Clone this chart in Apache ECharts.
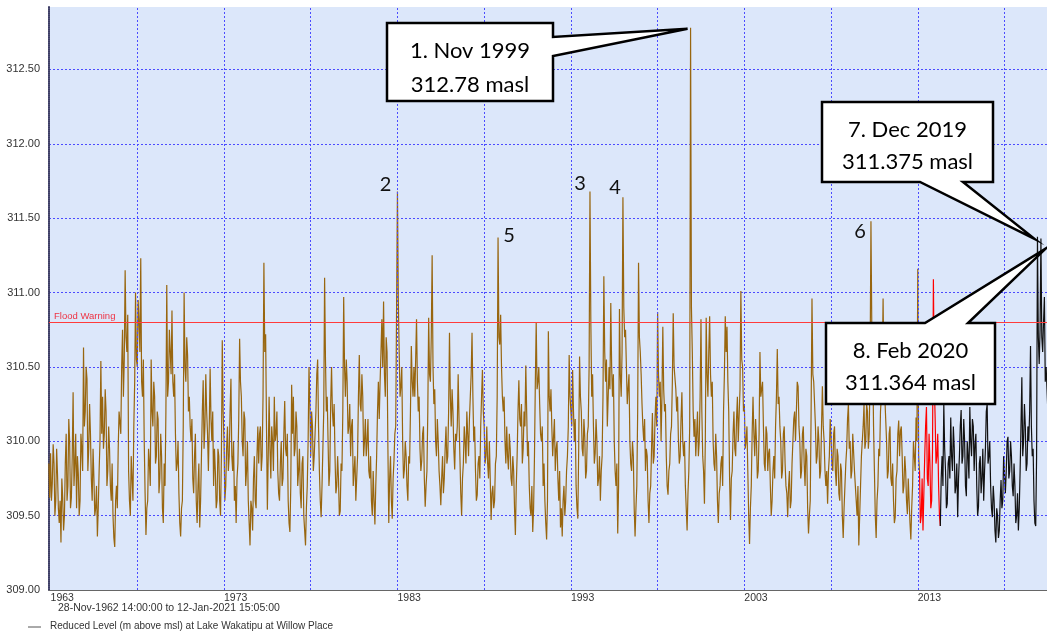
<!DOCTYPE html>
<html><head><meta charset="utf-8">
<script src="https://cdn.jsdelivr.net/npm/echarts@6/dist/echarts.min.js"></script>
<style>html,body{margin:0;padding:0;background:#fff}#c{width:1047px;height:631px}</style>
</head><body><div id="c"></div>
<script>
// Lake level (m above msl): one value every 0.1 year,
// plus an in-between reading (…Mid) half a step later.
const lv1962_1972 = [309.85,
 309.92,309.72,309.85,309.6,309.78,309.45,309.32,309.62,309.5,310.05,
 309.7,310.0,309.62,310.33,309.85,309.55,309.78,309.6,309.95,310.63,
 310.2,310.42,309.95,310.05,309.6,309.75,309.55,309.36,309.8,310.54,
 310.3,310.05,310.2,309.8,309.95,309.6,309.5,309.29,309.7,309.95,
 310.2,310.5,310.3,311.15,310.6,309.8,309.5,309.75,310.1,311.0,
 310.5,310.8,311.23,310.3,310.0,309.37,309.6,309.85,310.55,310.1,
 310.3,309.9,310.15,309.75,309.9,309.45,309.7,311.05,310.4,310.6,
 310.88,310.3,310.05,309.85,309.65,309.36,309.6,311.0,310.4,310.58,
 310.3,310.0,309.75,309.9,309.6,309.7,309.42,309.9,310.41,310.1,
 310.2,309.8,310.49,310.0,309.7,309.8,309.6,309.9,309.5,310.68];
const lv1962_1972Mid = [309.62,
 309.6,309.98,309.5,309.95,309.55,309.6,309.75,309.4,309.85,309.6,
 310.15,309.55,309.9,309.7,310.05,309.9,309.5,310.05,309.8,310.1,
 310.5,309.8,310.25,309.75,309.95,309.5,309.7,309.55,310.0,310.05,
 309.95,310.35,309.7,310.1,309.7,309.85,309.35,309.6,309.55,310.2,
 310.05,310.75,310.55,310.7,310.85,309.6,309.9,309.6,310.4,310.55,
 310.95,310.6,310.4,310.55,309.65,309.55,309.95,309.7,310.2,310.4,
 309.85,310.2,309.65,310.05,309.55,309.85,310.2,310.3,310.75,310.45,
 310.4,310.45,309.8,310.0,309.45,309.55,310.1,310.5,310.7,310.2,
 310.1,310.15,309.65,310.05,309.45,309.85,309.6,310.2,309.95,310.45,
 310.05,310.1,310.15,310.2,309.95,309.55,309.95,309.6,309.9,310.2];
const lv1973_1982 = [
 310.0,309.7,310.1,309.9,310.42,309.8,309.6,309.45,309.85,310.69,
 310.3,309.9,310.15,309.8,309.6,309.3,309.55,309.75,309.6,309.9,
 309.85,310.1,309.9,311.2,310.72,309.54,310.3,309.75,310.0,310.3,
 310.05,309.8,309.6,310.0,309.75,310.27,309.9,309.6,309.39,310.38,
 310.3,309.95,310.1,309.8,309.65,309.85,309.5,309.3,309.7,310.5,
 309.9,310.1,309.9,310.2,310.55,309.8,309.49,309.7,311.1,310.2,
 310.0,309.8,310.5,310.1,309.9,309.7,309.75,309.53,309.8,310.97,
 310.3,310.4,310.1,309.9,310.15,309.8,309.6,309.9,310.58,310.2,
 310.3,310.0,309.9,310.15,309.75,309.6,309.8,309.44,309.9,310.4,
 310.4,310.82,310.94,310.3,310.6,309.45,309.9,309.48,309.87,310.1];
const lv1973_1982Mid = [
 309.6,309.95,309.8,310.2,309.9,310.0,309.7,309.75,310.15,310.4,
 310.0,310.2,309.7,310.0,309.45,309.6,309.4,309.9,309.55,310.1,
 310.05,309.8,310.3,310.6,310.1,309.9,309.95,310.1,309.8,310.0,
 310.2,309.65,309.85,309.7,310.05,309.95,310.05,309.45,309.7,310.05,
 309.9,310.2,309.7,309.95,309.55,309.9,309.4,309.55,310.0,310.25,
 310.2,309.8,310.05,310.45,310.1,309.6,309.7,310.2,310.55,310.3,
 309.7,310.25,310.2,310.25,309.65,309.9,309.5,309.85,310.2,310.5,
 310.55,310.05,310.25,310.1,309.7,309.9,309.75,310.3,310.25,310.45,
 309.9,310.15,310.0,309.8,309.9,309.5,309.6,309.7,310.2,310.15,
 310.6,310.5,310.45,310.7,309.95,309.75,309.6,309.75,310.05,310.9];
const lv1983_1992 = [
 311.68,310.6,310.37,310.0,309.81,309.9,309.6,309.85,310.64,310.3,
 310.3,310.82,310.2,309.95,309.87,310.1,309.56,309.8,310.83,310.4,
 311.25,310.25,310.0,310.15,309.8,309.57,309.9,309.75,310.1,309.9,
 310.73,310.1,310.2,309.81,310.0,310.45,309.9,309.5,309.85,310.0,
 310.2,309.9,310.3,310.73,310.0,309.8,309.64,309.9,310.1,310.48,
 310.1,309.9,309.85,310.0,309.47,309.7,309.6,309.9,311.37,310.65,
 310.5,310.2,310.0,310.1,309.81,309.95,309.7,309.8,309.37,309.9,
 310.41,310.1,309.85,310.2,310.51,309.9,309.7,309.5,309.39,309.9,
 310.8,310.4,310.25,310.0,309.7,309.6,309.34,310.74,310.2,310.1,
 310.03,309.8,310.0,309.6,309.42,309.36,309.7,309.6,309.9,310.58];
const lv1983_1992Mid = [
 310.95,310.3,310.5,309.75,310.0,309.7,309.9,310.2,310.4,310.5,
 310.55,310.4,310.3,309.8,310.05,309.75,309.7,310.2,310.45,310.7,
 310.5,310.35,309.9,310.0,309.7,309.75,309.65,309.95,309.85,310.2,
 310.3,310.35,309.95,310.05,310.1,310.15,309.65,309.75,310.1,309.85,
 310.05,310.15,310.45,310.3,310.1,309.6,309.85,309.75,310.3,310.2,
 309.85,310.1,309.75,309.75,309.65,309.55,309.85,310.3,310.7,310.85,
 310.3,310.3,309.85,309.9,310.05,309.75,309.9,309.55,309.7,310.2,
 310.15,310.25,309.95,310.1,310.2,310.0,309.55,309.7,309.55,310.4,
 310.35,310.5,310.05,310.1,309.85,309.45,309.6,310.3,310.35,309.9,
 310.15,309.95,309.75,309.8,309.55,309.6,309.5,309.8,310.1,310.3];
const lv1993_2002 = [
 310.3,310.48,310.0,309.7,309.48,310.57,310.2,309.9,310.03,309.8,
 310.1,311.68,310.3,310.1,309.92,310.0,309.75,309.6,309.9,311.11,
 310.4,310.1,310.5,310.93,310.3,310.0,309.7,309.38,310.89,310.3,
 311.64,310.7,310.5,310.36,310.0,309.8,309.9,309.36,309.7,311.2,
 310.6,310.25,310.0,309.8,309.9,309.45,309.7,310.19,309.9,310.3,
 310.87,310.3,310.0,310.77,310.2,309.9,309.64,309.85,310.1,310.86,
 310.5,310.2,310.0,309.9,310.33,309.9,309.7,309.4,309.8,312.78,
 310.6,310.03,309.9,310.2,310.0,310.82,309.9,309.58,310.83,310.3,
 310.84,310.3,310.0,309.8,309.9,309.45,309.7,309.9,310.2,310.84,
 310.77,310.2,309.47,309.8,310.2,309.9,310.3,310.0,311.01,310.5];
const lv1993_2002Mid = [
 310.1,310.2,310.15,309.55,309.95,310.3,309.95,310.15,309.75,310.05,
 310.5,310.8,310.45,309.85,310.15,309.7,309.9,309.8,310.3,310.6,
 310.55,310.3,310.35,310.5,310.45,309.8,309.85,309.7,310.45,310.6,
 310.9,310.75,310.25,310.45,309.85,310.0,309.55,309.55,310.2,310.7,
 310.45,310.1,310.15,309.95,309.6,309.65,309.95,309.85,310.15,310.1,
 310.45,310.4,310.3,310.35,310.25,309.7,309.8,310.05,310.4,310.5,
 310.35,310.3,309.85,310.15,310.0,310.0,309.55,309.65,310.1,310.9,
 310.2,310.15,310.05,309.9,310.3,310.2,309.8,310.0,310.45,310.6,
 310.45,310.4,309.85,310.05,309.6,309.65,309.85,309.7,310.45,310.6,
 310.4,309.75,309.75,310.05,309.95,310.15,310.0,310.35,310.55,310.2];
const lv2003_2013 = [
 310.25,310.0,309.8,309.31,309.7,310.3,309.9,310.0,309.8,310.6,
 310.3,310.1,309.8,310.05,309.92,309.7,309.6,309.9,310.1,310.62,
 310.3,310.0,309.8,310.1,309.7,309.49,309.8,309.6,310.0,310.2,
 310.2,310.37,310.0,309.8,310.1,309.7,309.9,309.38,309.6,310.96,
 310.4,310.1,309.9,310.0,309.8,310.37,310.0,309.7,309.58,309.9,
 310.03,309.8,310.1,309.7,309.9,309.6,309.8,309.35,309.7,309.95,
 310.25,310.0,309.8,310.05,309.7,309.5,309.3,309.7,309.9,310.25,
 310.0,310.2,310.05,311.48,310.6,309.8,309.35,309.7,309.9,310.3,
 310.96,310.3,310.0,309.8,310.1,309.7,309.6,309.49,309.8,310.14,
 310.07,309.9,309.7,309.8,309.51,309.6,309.34,309.7,309.9,310.16,
 311.16,309.8];
const lv2003_2013Mid = [
 309.95,310.1,309.5,309.55,310.05,310.05,310.15,309.75,310.05,310.3,
 310.4,309.85,310.1,309.8,309.95,309.5,309.8,309.75,310.3,310.25,
 310.1,309.75,310.05,309.85,309.65,309.7,309.55,309.85,310.15,310.0,
 310.4,310.1,309.75,310.05,309.85,309.95,309.55,309.5,310.2,310.45,
 310.25,309.85,310.1,309.75,310.1,310.1,309.8,309.8,309.8,310.15,
 309.85,310.05,309.8,309.95,309.65,309.85,309.5,309.55,309.85,310.15,
 309.95,309.75,310.05,309.8,309.6,309.7,309.5,309.9,310.1,309.95,
 310.25,309.95,310.5,310.75,310.1,309.5,309.6,309.95,310.2,310.5,
 310.4,310.15,309.75,310.05,309.75,309.85,309.45,309.75,310.05,309.9,
 310.1,309.65,309.9,309.6,309.75,309.45,309.55,310.0,309.8,310.0,
 309.9];
const lvRed2013 = [309.8,309.5,309.4,309.9,310.23,309.7,309.85,309.6,311.09,310.16,309.9,309.7,309.43];
const lvRed2013Mid = [309.45,309.75,309.65,310.1,309.75,310.05,309.55,309.95,310.4,309.85,310.05,309.5];
const lvBlack2014 = [309.43,309.9,310.25,309.8,309.58,309.9,310.16,
 309.8,309.96,309.7,309.49,309.9,310.21,309.9,310.0,309.63,309.9,
 310.23,309.9,310.1,309.98,309.7,309.56,309.9,309.75,309.6,309.95,
 310.25,309.9,309.7,309.49,309.6,309.32,309.5,309.4,309.74,309.6,
 309.9,309.8,310.03,309.8,309.9,309.63,309.7,309.5,309.4,309.8,
 310.43,310.0,310.1,309.85,310.0,310.64,309.9,309.6,309.43,311.375,
 310.52,311.364,310.6,310.97,310.5,310.2];
const lvBlack2014Mid = [309.75,309.7,309.95,309.55,309.85,309.75,309.9,
 310.1,309.65,309.85,309.75,310.1,309.85,310.15,309.7,310.0,309.75,
 310.0,310.15,309.8,310.05,309.5,309.85,309.65,309.95,309.8,310.2,
 309.85,310.0,309.55,309.7,309.4,309.55,309.35,309.6,309.55,309.9,
 309.65,310.0,309.75,310.0,309.7,309.85,309.45,309.65,309.55,310.1,
 309.9,310.25,309.8,310.1,310.2,310.1,309.95,309.45,309.9,310.7,
 310.75,310.7,310.8,310.4,310.35];

const xLabelYears = [1963,1973,1983,1993,2003,2013];
const xGridYears = [1968,1973,1978,1983,1988,1993,1998,2003,2008,2013,2018];
const floodWarning = 310.8;
const peaks = [
  {n:'2', at:[1983.0,311.68]}, {n:'3', at:[1994.1,311.68]}, {n:'4', at:[1996.0,311.64]},
  {n:'5', at:[1988.8,311.37]}, {n:'6', at:[2010.3,311.48]}];
const callouts = [
  {l1:'1. Nov 1999', l2:'312.78 masl', at:[1999.9,312.78]},
  {l1:'7. Dec 2019', l2:'311.375 masl', at:[2019.9,311.375]},
  {l1:'8. Feb 2020', l2:'311.364 masl', at:[2020.1,311.364]}];

const r3 = t => Math.round(t*1000)/1000;
function build(start, vals, mids){
  const out=[];
  vals.forEach((v,i)=>{ const t=start+i*0.1; out.push([r3(t),v]);
    if(mids[i]!==undefined) out.push([r3(t+0.05),mids[i]]); });
  return out;
}
const brownData = [].concat(build(1962.9,lv1962_1972,lv1962_1972Mid), build(1973,lv1973_1982,lv1973_1982Mid),
  build(1983,lv1983_1992,lv1983_1992Mid), build(1993,lv1993_2002,lv1993_2002Mid), build(2003,lv2003_2013,lv2003_2013Mid));
const redData = build(2013.1, lvRed2013, lvRed2013Mid);
const blackData = build(2014.3, lvBlack2014, lvBlack2014Mid);

const chart = echarts.init(document.getElementById('c'));
const gridBlue = '#4b4bff';
const font = 'Liberation Sans, Arial';
chart.setOption({
  animation:false,
  grid:{left:49,right:0,top:7,bottom:41,show:true,backgroundColor:'#dce7fa',borderWidth:0},
  xAxis:{type:'value',min:1962.91,max:2020.45,
    axisLine:{show:true,lineStyle:{color:'#666',width:1}},
    axisTick:{show:false},splitLine:{show:false},
    axisLabel:{customValues:xLabelYears,formatter:v=>String(Math.round(v)),align:'left',margin:3,fontSize:10.5,color:'#333',fontFamily:font}},
  yAxis:{type:'value',min:309,max:312.92,interval:0.5,
    axisLine:{show:true,lineStyle:{color:'#3d3d66',width:2,type:[1,1]}},
    axisTick:{show:false},
    axisLabel:{formatter:v=>v.toFixed(2),showMaxLabel:false,margin:9,fontSize:11,color:'#333',fontFamily:font},
    splitLine:{show:true,showMaxLine:false,lineStyle:{color:gridBlue,type:[2,2],width:1}}},
  series:[
    {type:'line',data:[],z:1,silent:true,
     markLine:{silent:true,symbol:'none',label:{show:false},
       lineStyle:{color:gridBlue,type:[2,2],width:1},
       data:xGridYears.map(y=>({xAxis:y}))}},
    {type:'line',data:brownData,showSymbol:false,z:2,color:'#98660f',lineStyle:{color:'#98660f',width:1.2,join:'bevel'}},
    {type:'line',data:redData,showSymbol:false,z:2,color:'#ff0000',lineStyle:{color:'#ff0000',width:1.2,join:'bevel'}},
    {type:'line',data:blackData,showSymbol:false,z:2,color:'#111',lineStyle:{color:'#111',width:1.2,join:'bevel'}},
    {type:'line',data:[],z:5,silent:true,
     markLine:{silent:true,symbol:'none',
       lineStyle:{color:'#ff3b3b',type:'solid',width:1},
       label:{show:true,position:'insideStartTop',formatter:'Flood Warning',color:'#ee3344',fontSize:9.5,distance:[5,1],fontFamily:font},
       data:[{yAxis:floodWarning}]}}
  ]
});

function px(p){ return chart.convertToPixel({xAxisIndex:0,yAxisIndex:0}, p); }
const g = [];
const lbl = {2:[-12,-7],3:[-10,-8],4:[-8,-10],5:[11,-2],6:[-11,10]};
peaks.forEach(p=>{ const q=px(p.at); const o=lbl[p.n];
  g.push({type:'text',x:q[0]+o[0],y:q[1]+o[1],z:50,style:{text:p.n,fontSize:20,fontFamily:'Lato',fill:'#111',align:'center',verticalAlign:'middle'}}); });
function boxText(cx, y1, y2, c){
  g.push({type:'text',x:cx,y:y1,z:61,style:{text:c.l1,fontSize:22,fontFamily:'Lato',fill:'#000',align:'center',verticalAlign:'middle'}});
  g.push({type:'text',x:cx,y:y2,z:61,style:{text:c.l2,fontSize:22,fontFamily:'Lato',fill:'#000',align:'center',verticalAlign:'middle'}});
}
const boxStyle = {fill:'#fff',stroke:'#000',lineWidth:2.5,lineJoin:'miter'};
(function(){ const t=px(callouts[0].at); const b={x0:387,y0:23,x1:553,y1:101};
  g.push({type:'polygon',z:60,shape:{points:[[b.x0,b.y0],[b.x1,b.y0],[b.x1,37],[t[0]-3,t[1]+1],[b.x1,56],[b.x1,b.y1],[b.x0,b.y1]]},style:boxStyle});
  boxText((b.x0+b.x1)/2, 51, 85, callouts[0]);
})();
(function(){ const t=px(callouts[1].at); const b={x0:822,y0:102,x1:993,y1:182};
  g.push({type:'polygon',z:60,shape:{points:[[b.x0,b.y0],[b.x1,b.y0],[b.x1,b.y1],[963,b.y1],[t[0]-3,t[1]+2],[920,b.y1],[b.x0,b.y1]]},style:boxStyle});
  boxText((b.x0+b.x1)/2, 130, 162, callouts[1]);
})();
(function(){ const t=px(callouts[2].at); const b={x0:826,y0:323,x1:995,y1:404};
  g.push({type:'polygon',z:60,shape:{points:[[b.x0,b.y0],[925,b.y0],[t[0]+5,t[1]+10],[968,b.y0],[b.x1,b.y0],[b.x1,b.y1],[b.x0,b.y1]]},style:boxStyle});
  boxText((b.x0+b.x1)/2, 351, 383, callouts[2]);
})();
g.push({type:'text',x:58,y:608,style:{text:'28-Nov-1962 14:00:00 to 12-Jan-2021 15:05:00',fontSize:10.5,fontFamily:font,fill:'#333',verticalAlign:'middle'}});
g.push({type:'line',shape:{x1:28,y1:627,x2:41,y2:627},style:{stroke:'#555',lineWidth:1}});
g.push({type:'text',x:50,y:626,style:{text:'Reduced Level (m above msl) at Lake Wakatipu at Willow Place',fontSize:10,fontFamily:font,fill:'#333',verticalAlign:'middle'}});
chart.setOption({graphic:g});
</script>
</body></html>
